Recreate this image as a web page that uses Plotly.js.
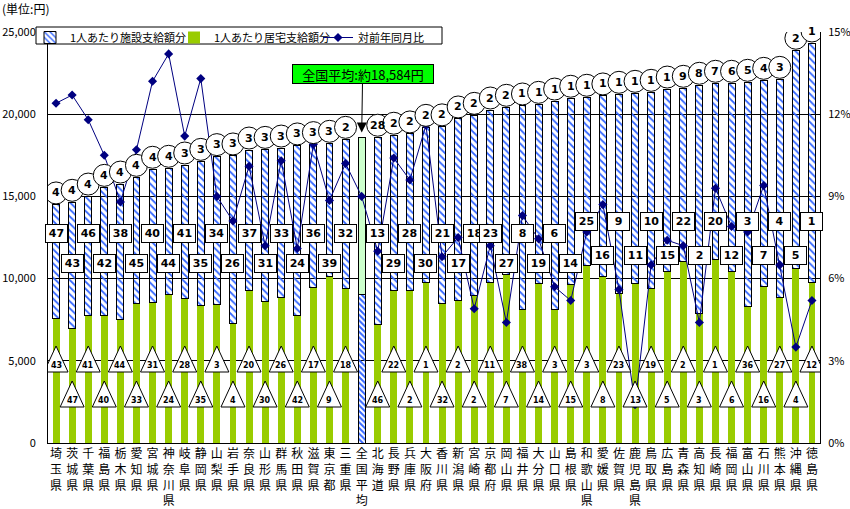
<!DOCTYPE html>
<html><head><meta charset="utf-8">
<script src="https://cdn.plot.ly/plotly-3.0.1.min.js"></script>
<style>html,body{margin:0;padding:0;background:#fff}#chart{width:850px;height:509px}</style>
</head><body><div id="chart"></div>
<script>
const prefectures = ['埼玉県','茨城県','千葉県','福島県','栃木県','愛知県','宮城県','神奈川県','岐阜県','静岡県','山梨県','岩手県','奈良県','山形県','群馬県','秋田県','滋賀県','東京都','三重県','全国平均','北海道','長野県','兵庫県','大阪府','香川県','新潟県','宮崎県','京都府','岡山県','福井県','大分県','山口県','島根県','和歌山県','愛媛県','佐賀県','鹿児島県','鳥取県','広島県','青森県','高知県','長崎県','福岡県','富山県','石川県','熊本県','沖縄県','徳島県'];
// 1人あたり居宅支給額分 (円)
const kyotaku = [7590,6980,7770,7770,7520,8500,8560,9050,8800,8380,8440,7280,9300,8620,8880,7760,9470,10120,9410,9050,7220,9260,9260,9770,8500,8660,9000,9770,10260,8130,9710,8130,9650,10810,10120,9100,9710,9410,10420,11070,7890,11170,10420,8330,9510,8860,10630,9770];
// 1人あたり施設支給額分 (円)
const shisetsu = [6890,7660,7250,7780,8230,7660,8090,7660,8110,8750,8980,10180,8520,9240,9060,10310,8680,8110,9060,9534,11380,9460,9540,9430,10730,11050,10930,10485,10160,12370,10890,12670,11320,10220,10990,12110,11560,11920,11110,10505,13870,10710,11460,13610,12550,13260,13260,14560];
// 対前年同月比 (%)
const yoy = [12.4,12.7,11.8,10.5,8.8,10.7,13.2,14.2,11.2,13.3,9.0,8.1,10.1,7.2,10.3,7.1,10.9,8.85,10.2,9.0,7.0,10.4,9.6,11.6,6.8,7.5,4.9,7.2,4.4,8.3,7.45,5.7,5.2,7.7,8.7,5.6,1.4,6.5,7.4,7.2,4.4,9.3,7.9,7.7,9.4,6.5,3.5,5.2];
// 合計順位ラベル (circles)
const totalRankLabels = ['4','4','4','4','4','4','4','4','3','3','3','3','3','3','3','3','3','3','2','','28','2','2','2','2','2','2','2','2','1','1','1','1','1','1','1','1','1','1','9','8','7','6','5','4','3','2','1'];
// 施設順位ラベル (squares)
const shisetsuRankLabels = ['47','43','46','42','38','45','40','44','41','35','34','26','37','31','33','24','36','39','32','','13','29','28','30','21','17','18','23','27','8','19','6','14','25','16','9','11','10','15','22','2','20','12','3','7','4','5','1'];
// 居宅順位ラベル (triangles)
const kyotakuRankLabels = ['43','47','41','40','44','33','31','24','28','35','3','4','20','30','26','42','17','9','18','','46','22','2','1','32','2','2','11','7','38','14','3','15','3','8','23','13','19','5','2','3','1','6','36','16','27','4','12'];
const avgLabel = '全国平均:約18,584円';
const unitLabel = '(単位:円)';
const seriesNames = ['1人あたり施設支給額分','1人あたり居宅支給額分','対前年同月比'];

const AVG = prefectures.indexOf('全国平均');
const idx = prefectures.map((_, i) => i);
const total = idx.map(i => kyotaku[i] + shisetsu[i]);
const tickText = prefectures.map(p => p.split('').join('<br>'));

const GREEN = '#99cc00', BLUE = '#3366ff', LIGHT = '#ccffcc';
const FONT = 'Noto Sans CJK JP, sans-serif';
const BOLD = 'DejaVu Sans, sans-serif';

const traces = [
  {
    type: 'bar', x: idx, y: kyotaku, name: seriesNames[1], legendrank: 2,
    marker: {
      color: idx.map(i => i === AVG ? BLUE : GREEN),
      pattern: {shape: idx.map(i => i === AVG ? '\\' : ''), bgcolor: 'white', size: 4, solidity: 0.5},
      line: {width: idx.map(i => i === AVG ? 1 : 0), color: 'black'}
    },
    hoverinfo: 'skip'
  },
  {
    type: 'bar', x: idx, y: shisetsu, name: seriesNames[0], legendrank: 1,
    marker: {
      color: idx.map(i => i === AVG ? LIGHT : BLUE),
      pattern: {shape: idx.map(i => i === AVG ? '' : '\\'), bgcolor: 'white', size: 5, solidity: 0.35},
      line: {width: 1, color: 'black'}
    },
    hoverinfo: 'skip'
  },
  {
    type: 'scatter', mode: 'lines+markers', x: idx, y: yoy, yaxis: 'y2', name: seriesNames[2], legendrank: 3,
    line: {color: '#000080', width: 1},
    marker: {symbol: 'diamond', size: 7, color: '#000080'},
    hoverinfo: 'skip'
  }
];

const pxToPaper = px => (443 - px) / 411;
const pxToPaperX = px => (px - 48) / 772;
const shapes = [];
const annotations = [];

// legend frame
shapes.push({type: 'rect', xref: 'paper', yref: 'paper',
  x0: pxToPaperX(36), x1: pxToPaperX(442), y0: pxToPaper(44), y1: pxToPaper(27),
  line: {color: 'black', width: 1}, fillcolor: 'white', layer: 'above'});

idx.forEach(i => {
  if (i === AVG) return;
  // circle at top of bar
  shapes.push({type: 'circle', xref: 'x', yref: 'y', xsizemode: 'pixel', ysizemode: 'pixel',
    xanchor: i, yanchor: total[i], x0: -11, x1: 11, y0: 1, y1: 23,
    line: {color: 'black', width: 1}, fillcolor: 'white', layer: 'above'});
  annotations.push({x: i, y: total[i], xref: 'x', yref: 'y', yshift: 12, showarrow: false,
    xanchor: 'center', yanchor: 'middle',
    text: '<b>' + totalRankLabels[i] + '</b>', font: {family: BOLD, size: 11, color: 'black'}});

  // square label (施設)
  const sqUpper = i < 27 ? i % 2 === 0 : i % 2 === 1;
  const right = i >= 33;
  const sqPx = sqUpper ? (right ? 221 : 234) : (right ? 255 : 263);
  annotations.push({x: i, y: pxToPaper(sqPx), xref: 'x', yref: 'paper', showarrow: false,
    xanchor: 'center', yanchor: 'middle',
    text: '<b>' + shisetsuRankLabels[i] + '</b>', font: {family: BOLD, size: 11, color: 'black'},
    bgcolor: 'white', bordercolor: 'black', borderwidth: 1, borderpad: 1, width: 19, height: 15});

  // triangle label (居宅)
  const trUpper = i < 19 ? i % 2 === 0 : i % 2 === 1;
  const basePx = trUpper ? 372 : 407;
  const yb = pxToPaper(basePx), ya = pxToPaper(basePx - 26);
  shapes.push({type: 'path', xref: 'x', yref: 'paper', xsizemode: 'pixel',
    xanchor: i, path: `M -12,${yb} L 12,${yb} L 0,${ya} Z`,
    line: {color: 'black', width: 1}, fillcolor: 'white', layer: 'above'});
  annotations.push({x: i, y: pxToPaper(basePx - 7), xref: 'x', yref: 'paper', showarrow: false,
    xanchor: 'center', yanchor: 'middle',
    text: '<b>' + kyotakuRankLabels[i] + '</b>', font: {family: BOLD, size: 8, color: 'black'}});
});

annotations.push({x: AVG, y: total[AVG], xref: 'x', yref: 'y', text: avgLabel,
  showarrow: true, arrowhead: 2, arrowsize: 2, arrowwidth: 1, arrowcolor: 'black',
  ax: 1, ay: -63, standoff: 5, bgcolor: '#00ff00', bordercolor: 'black', borderwidth: 1, borderpad: 1,
  width: 138, height: 16,
  font: {family: FONT, size: 13, color: 'black'}});
annotations.push({x: -0.062, y: pxToPaper(9), xref: 'paper', yref: 'paper', xanchor: 'left', yanchor: 'middle',
  showarrow: false, text: unitLabel, font: {family: FONT, size: 12, color: 'black'}});

const layout = {
  width: 850, height: 509,
  margin: {l: 48, r: 30, t: 32, b: 66},
  paper_bgcolor: 'white', plot_bgcolor: 'white',
  font: {family: FONT, size: 12, color: 'black'},
  barmode: 'stack', bargap: 0.57,
  showlegend: true,
  legend: {orientation: 'h', x: pxToPaperX(30), xanchor: 'left', y: pxToPaper(23), yanchor: 'top',
    bgcolor: 'rgba(0,0,0,0)', borderwidth: 0, font: {family: FONT, size: 11},
    traceorder: 'normal', itemwidth: 30, tracegroupgap: 0,
    entrywidth: 99, entrywidthmode: 'pixels'},
  xaxis: {range: [-0.5, 47.5], tickvals: idx, ticktext: tickText, tickangle: 0,
    showline: true, linecolor: 'black', linewidth: 1, showgrid: false, zeroline: false,
    ticks: '', tickfont: {family: FONT, size: 12}},
  yaxis: {range: [0, 25000], dtick: 5000, tickformat: ',d', showgrid: true, gridcolor: 'black', gridwidth: 1,
    showline: true, linecolor: 'black', linewidth: 1, zeroline: false, ticks: '', ticklabelstandoff: 9,
    tickfont: {family: FONT, size: 11}},
  yaxis2: {range: [0, 15], dtick: 3, ticksuffix: '%', overlaying: 'y', side: 'right', showgrid: false,
    showline: true, linecolor: 'black', linewidth: 1, zeroline: false, ticks: '', ticklabelstandoff: 5,
    tickfont: {family: FONT, size: 11}},
  shapes: shapes,
  annotations: annotations
};

Plotly.newPlot('chart', traces, layout, {displayModeBar: false, staticPlot: true});
</script></body></html>
